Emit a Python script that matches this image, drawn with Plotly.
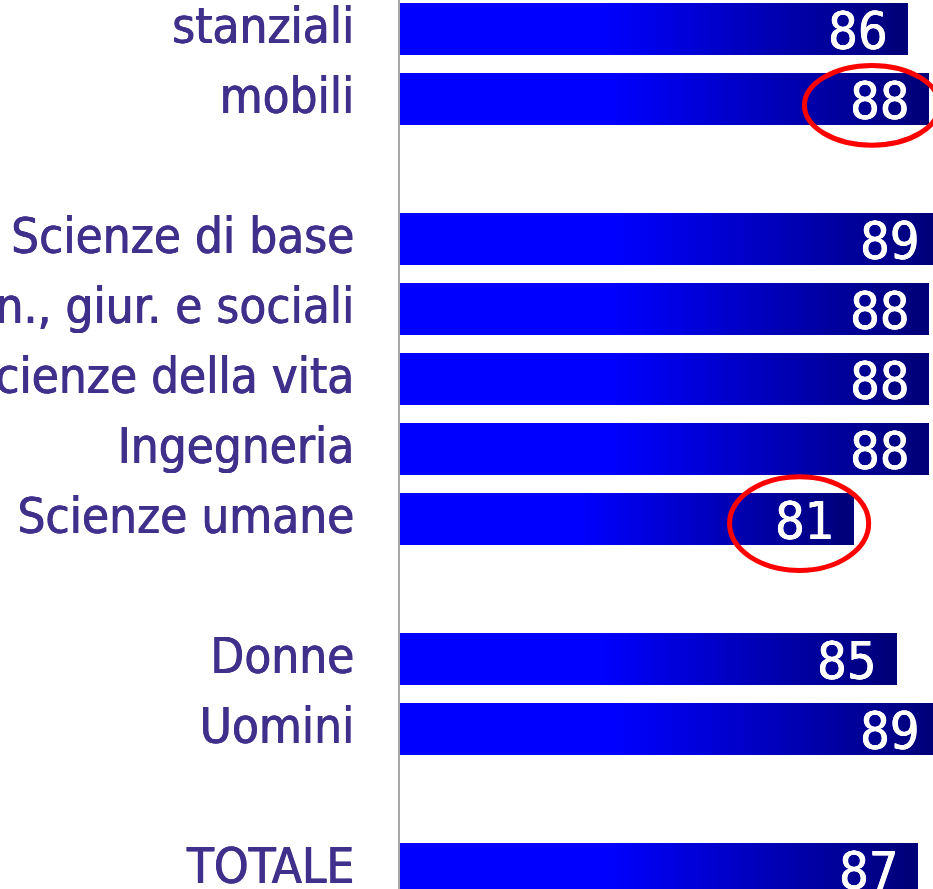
import plotly.graph_objects as go

# rows of the chart, blank strings are the spacer rows between the groups
labels = ["stanziali", "mobili", " ",
          "Scienze di base", "Scienze econ., giur. e sociali", "Scienze della vita",
          "Ingegneria", "Scienze umane", "  ",
          "Donne", "Uomini", "   ",
          "TOTALE"]
values = [86, 88, None, 89, 88, 88, 88, 81, None, 85, 89, None, 87]
circled = ["mobili", "Scienze umane"]

X_START = 38.6   # left end of the value axis (bars start at the axis line)
PX_PER_UNIT = 10.7
FIG_W, FIG_H = 950, 889   # a bit wider than the window, right side is cut like the original
LEFT = 400
X_END = X_START + (FIG_W - LEFT) / PX_PER_UNIT
ROW_PX = 70   # pixel height of one row, bars are 52 px thick
BAR_W = 52 / ROW_PX
Y_TOP = -29 / ROW_PX
FONT = "DejaVu Sans Condensed, Liberation Sans, sans-serif"
LABEL_COLOR = "#40308C"
FLAT = 0.4   # share of each bar that stays plain blue


def shade(t):
    f = (t - FLAT) / (1 - FLAT)
    return "rgb(0,0,%d)" % round(255 - (255 - 118) * f)


fig = go.Figure()
# plain blue bars
fig.add_trace(go.Bar(
    y=labels, x=values, orientation="h", width=BAR_W,
    marker=dict(color="rgb(0,0,255)", line=dict(width=0)),
    hoverinfo="skip", showlegend=False,
))

# right part of each bar: overlapping pieces that all end at the value,
# later (darker) pieces start further right -> horizontal gradient
n_seg = 40
seg_y, seg_base, seg_len, seg_col = [], [], [], []
for k in range(n_seg):
    t = FLAT + (1 - FLAT) * k / n_seg
    for lab, v in zip(labels, values):
        if v is None:
            continue
        base = X_START + (v - X_START) * t
        seg_y.append(lab)
        seg_base.append(base)
        seg_len.append(v - base)
        seg_col.append(shade(t + 0.5 * (1 - FLAT) / n_seg))

fig.add_trace(go.Bar(
    y=seg_y, x=seg_len, base=seg_base, orientation="h",
    width=BAR_W, marker=dict(color=seg_col, line=dict(width=0)),
    hoverinfo="skip", showlegend=False,
))

# value labels inside the bar ends
for lab, v in zip(labels, values):
    if v is None:
        continue
    fig.add_annotation(x=v, y=lab, text=str(v), showarrow=False,
                       xanchor="right", xshift=-17, yshift=-2,
                       font=dict(family=FONT, size=52, color="white",
                                 shadow="0.6px 0 0 white, -0.3px 0 0 white"))

# red hand-drawn style ellipses
ellipse_size = {"mobili": (5.3, 6.3, 0.09, 0.57), "Scienze umane": (5.1, 6.5, 0.065, 0.67)}
for lab in circled:
    i = labels.index(lab)
    v = values[i]
    dx, rx, dy, ry = ellipse_size[lab]
    cx, cy = v - dx, i + dy
    fig.add_shape(type="circle", xref="x", yref="y",
                  x0=cx - rx, x1=cx + rx, y0=cy - ry, y1=cy + ry,
                  line=dict(color="#FF0000", width=5))

fig.update_layout(
    width=FIG_W, height=FIG_H,
    margin=dict(l=LEFT, r=0, t=0, b=0),
    plot_bgcolor="white", paper_bgcolor="white",
    barmode="overlay", showlegend=False,
    xaxis=dict(range=[X_START, X_END], visible=False),
    yaxis=dict(type="category", categoryorder="array", categoryarray=labels,
               range=[Y_TOP + FIG_H / ROW_PX, Y_TOP],
               showgrid=False, zeroline=False,
               showline=True, linecolor="#A6A6A6", linewidth=2,
               ticks="", ticklabelstandoff=34, ticklabelshift=3, automargin=False,
               tickfont=dict(family=FONT, size=49, color=LABEL_COLOR,
                             shadow="0.6px 0 0 #40308C, -0.3px 0 0 #40308C")),
)

fig.write_html("out.html", config={"displayModeBar": False},
               post_script="document.body.style.margin='0';document.body.style.overflow='hidden';")
